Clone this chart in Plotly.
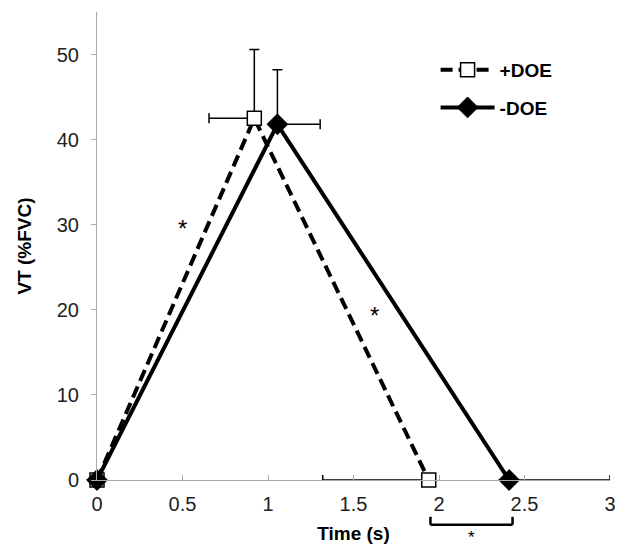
import plotly.graph_objects as go

# Data
time_plus = [0, 0.92, 1.94]
vt_plus = [0, 42.5, 0]
vt_plus_err_up = [0, 8.1, 0]
time_plus_err_minus = [0, 0.265, 0.62]

time_minus = [0, 1.055, 2.41]
vt_minus = [0, 41.8, 0]
vt_minus_err_up = [0, 6.4, 0]
time_minus_err_plus = [0, 0.25, 0.59]

sig_marks_x = [0.5, 1.62]
sig_marks_y = [29.55, 19.35]

x_ticks = [0, 0.5, 1, 1.5, 2, 2.5, 3]
x_tick_labels = ["0", "0.5", "1", "1.5", "2", "2.5", "3"]
y_ticks = [0, 10, 20, 30, 40, 50]

FONT = "Liberation Sans, Arial, sans-serif"

fig = go.Figure()

fig.add_trace(go.Scatter(
    x=time_plus, y=vt_plus, name="+DOE", mode="lines+markers",
    line=dict(color="black", width=4, dash="12px,6px"),
    marker=dict(symbol="square", size=14, color="white", line=dict(color="black", width=1.5)),
    error_y=dict(type="data", symmetric=False, array=vt_plus_err_up, arrayminus=[0, 0, 0],
                 color="black", thickness=1.5, width=5),
    error_x=dict(type="data", symmetric=False, array=[0, 0, 0], arrayminus=time_plus_err_minus,
                 color="black", thickness=1.5, width=5),
    cliponaxis=False, legendgroup="a",
))

fig.add_trace(go.Scatter(
    x=time_minus, y=vt_minus, name="-DOE", mode="lines+markers",
    line=dict(color="black", width=4),
    marker=dict(symbol="diamond", size=16, color="black", line=dict(color="black", width=1)),
    error_y=dict(type="data", symmetric=False, array=vt_minus_err_up, arrayminus=[0, 0, 0],
                 color="black", thickness=1.5, width=5),
    error_x=dict(type="data", symmetric=False, array=time_minus_err_plus, arrayminus=[0, 0, 0],
                 color="black", thickness=1.5, width=5),
    cliponaxis=False, legendgroup="b",
))

annotations = []
for sx, sy in zip(sig_marks_x, sig_marks_y):
    annotations.append(dict(x=sx, y=sy, xref="x", yref="y", text="*", showarrow=False,
                            font=dict(family=FONT, size=24, color="black")))

# bracket below the axis between the two end times
bx0 = time_plus[2] + 0.01
bx1 = time_minus[2] + 0.02
shapes = [
    dict(type="line", xref="x", yref="paper", x0=bx0, x1=bx1, y0=-0.0957, y1=-0.0957,
         line=dict(color="black", width=2.5)),
    dict(type="line", xref="x", yref="paper", x0=bx0, x1=bx0, y0=-0.0957, y1=-0.0787,
         line=dict(color="black", width=2.5)),
    dict(type="line", xref="x", yref="paper", x0=bx1, x1=bx1, y0=-0.0957, y1=-0.0787,
         line=dict(color="black", width=2.5)),
]
annotations.append(dict(x=(bx0 + bx1) / 2, y=-0.1465, xref="x", yref="paper", text="*",
                        showarrow=False, yanchor="bottom",
                        font=dict(family=FONT, size=17, color="black")))

fig.update_layout(
    width=628, height=552,
    margin=dict(l=97, r=16, t=12, b=70),
    paper_bgcolor="white", plot_bgcolor="white",
    font=dict(family=FONT, color="#222"),
    showlegend=True,
    legend=dict(x=0.66, y=0.917, xanchor="left", yanchor="top",
                font=dict(family=FONT, size=19, color="black", weight="bold"),
                bgcolor="rgba(0,0,0,0)", tracegroupgap=10, traceorder="grouped",
                itemwidth=54),
    annotations=annotations,
    shapes=shapes,
    xaxis=dict(range=[0, 3], tickvals=x_ticks, ticktext=x_tick_labels,
               showgrid=False, zeroline=False, showline=True, linecolor="#aaa", linewidth=1,
               ticks="inside", ticklen=5, tickcolor="#aaa",
               tickfont=dict(family=FONT, size=20, color="#222"), ticklabelstandoff=6,
               title=dict(text="<b>Time (s)</b>", font=dict(family=FONT, size=19, color="black"),
                          standoff=12)),
    yaxis=dict(range=[0, 55], tickvals=y_ticks,
               showgrid=False, zeroline=False, showline=True, linecolor="#aaa", linewidth=1,
               ticks="outside", ticklen=5, tickcolor="#aaa",
               tickfont=dict(family=FONT, size=20, color="#222"), ticklabelstandoff=8,
               title=dict(text="<b>VT (%FVC)</b>", font=dict(family=FONT, size=19, color="black"),
                          standoff=20)),
)

fig.write_html("out.html", config={"displayModeBar": False},
               post_script="document.body.style.margin='0px';")
